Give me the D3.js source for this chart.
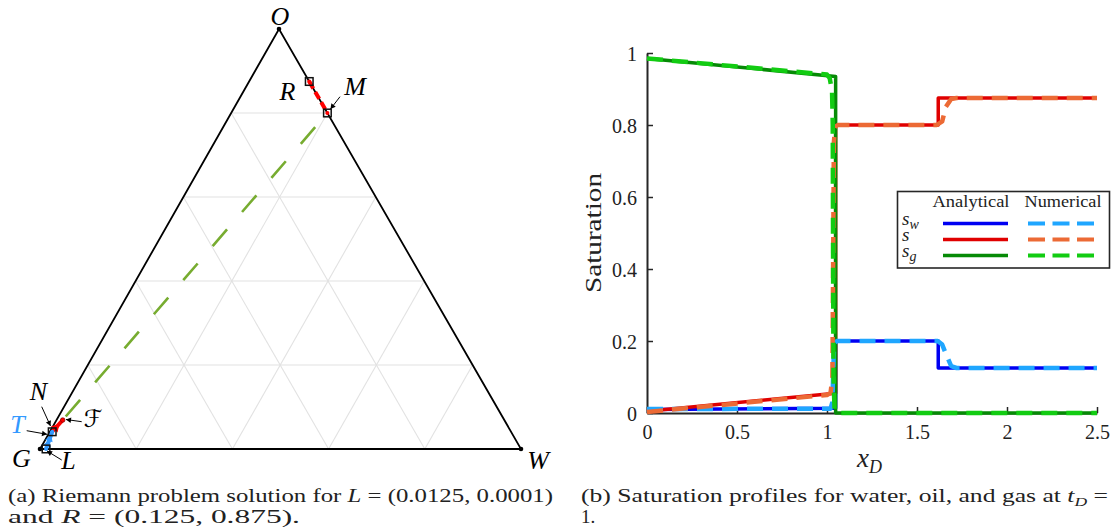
<!DOCTYPE html>
<html><head><meta charset="utf-8">
<script src="https://cdn.jsdelivr.net/npm/d3@7"></script>
<style>
html,body{margin:0;padding:0;background:#fff;}
svg{display:block;font-family:"Liberation Serif","DejaVu Serif",serif;}
</style></head>
<body>
<svg id="chart" width="1118" height="532"></svg>
<script>
// ---------------- DATA ----------------
// Ternary states (sw, so); sg = 1 - sw - so
const stateNames = ["L", "N", "F", "M", "R"];
const stateSw = [0.0125, 0.005, 0.013, 0.2, 0.125];
const stateSo = [0.0001, 0.041, 0.069, 0.8, 0.875];
const gridDivisions = [0.2, 0.4, 0.6, 0.8];
const vertexLabels = ["O", "G", "W"];

// Saturation profiles (x_D)
const swAnaX = [0, 1.048, 1.048, 1.618, 1.618, 2.5];
const swAnaY = [0.010, 0.013, 0.2, 0.2, 0.125, 0.125];
const sAnaX  = [0, 1.048, 1.048, 1.618, 1.618, 2.5];
const sAnaY  = [0.005, 0.055, 0.8, 0.8, 0.875, 0.875];
const sgAnaX = [0, 1.048, 1.048, 2.5];
const sgAnaY = [0.985, 0.935, 0, 0];

const swNumX = [0, 1.02, 1.03, 1.034, 1.038, 1.045, 1.055, 1.615, 1.64, 1.66, 1.69, 1.72, 2.5];
const swNumY = [0.011, 0.012, 0.03, 0.1, 0.17, 0.195, 0.2, 0.2, 0.19, 0.165, 0.13, 0.125, 0.125];
const sNumX  = [0, 1.0, 1.02, 1.03, 1.034, 1.038, 1.045, 1.06, 1.61, 1.64, 1.66, 1.69, 1.72, 2.5];
const sNumY  = [0.003, 0.05, 0.056, 0.1, 0.4, 0.75, 0.795, 0.8, 0.8, 0.81, 0.85, 0.872, 0.875, 0.875];
const sgNumX = [0, 1.0, 1.015, 1.028, 1.032, 1.034, 1.036, 1.042, 1.06, 2.5];
const sgNumY = [0.985, 0.94, 0.93, 0.895, 0.8, 0.4, 0.1, 0.01, 0, 0];

const xTicks = [0, 0.5, 1, 1.5, 2, 2.5];
const yTicks = [0, 0.2, 0.4, 0.6, 0.8, 1];
const legendNames = ["w", "", "g"];

// ---------------- STYLE ----------------
const C = {
  blue: "#0000f2", lblue: "#1fa6ff", red: "#e00000", orange: "#ec6a35",
  green: "#068a06", lgreen: "#12cc12", axis: "#262626", tblue: "#3399ff",
  tgreen: "#77ac30", grid: "#e2e2e2"
};

const svg = d3.select("#chart");

// ================= LEFT: TERNARY =================
const G = {x: 40, y: 449}, W = {x: 521, y: 449}, O = {x: 279, y: 29};
const swScale = d3.scaleLinear().domain([0, 1]).range([0, W.x - G.x]);
const soX = d3.scaleLinear().domain([0, 1]).range([G.x, O.x]);
const soY = d3.scaleLinear().domain([0, 1]).range([G.y, O.y]);
const proj = (sw, so) => [soX(so) + swScale(sw), soY(so)];

const tern = svg.append("g");
gridDivisions.forEach(v => {
  const segs = [
    [proj(0, v), proj(1 - v, v)],
    [proj(v, 0), proj(v, 1 - v)],
    [proj(1 - v, 0), proj(0, 1 - v)]
  ];
  segs.forEach(s => tern.append("line")
    .attr("x1", s[0][0]).attr("y1", s[0][1]).attr("x2", s[1][0]).attr("y2", s[1][1])
    .attr("stroke", C.grid).attr("stroke-width", 1.1));
});
const tri = [proj(0, 0), proj(1, 0), proj(0, 1)];
tern.append("path").attr("d", d3.line()(tri) + "Z")
  .attr("fill", "none").attr("stroke", "#000").attr("stroke-width", 1.8);
tri.forEach(p => tern.append("circle").attr("cx", p[0]).attr("cy", p[1]).attr("r", 2.3).attr("fill", "#000"));

const st = {};
stateNames.forEach((n, i) => st[n] = proj(stateSw[i], stateSo[i]));

tern.append("line")
  .attr("x1", st.F[0] + 3).attr("y1", st.F[1] - 3.5).attr("x2", st.M[0]).attr("y2", st.M[1])
  .attr("stroke", C.tgreen).attr("stroke-width", 2.6).attr("stroke-dasharray", "22,23");
tern.append("line")
  .attr("x1", st.R[0]).attr("y1", st.R[1]).attr("x2", st.M[0]).attr("y2", st.M[1])
  .attr("stroke", "#ff0000").attr("stroke-width", 4).attr("stroke-dasharray", "8,4");

function arrowHead(g, p0, p1, t, size, color) {
  const dx = p1[0] - p0[0], dy = p1[1] - p0[1], L = Math.hypot(dx, dy);
  const ux = dx / L, uy = dy / L, nx = -uy, ny = ux;
  const tip = [p0[0] + dx * t, p0[1] + dy * t];
  const base = [tip[0] - ux * size, tip[1] - uy * size];
  g.append("path").attr("d", d3.line()([tip,
    [base[0] + nx * size * 0.55, base[1] + ny * size * 0.55],
    [base[0] - nx * size * 0.55, base[1] - ny * size * 0.55]]) + "Z")
    .attr("fill", color);
}
tern.append("line").attr("x1", st.L[0]).attr("y1", st.L[1]).attr("x2", st.N[0]).attr("y2", st.N[1])
  .attr("stroke", C.tblue).attr("stroke-width", 4);
arrowHead(tern, st.L, st.N, 0.55, 7, C.tblue);
arrowHead(tern, st.L, st.N, 0.85, 7, C.tblue);
tern.append("line").attr("x1", st.N[0]).attr("y1", st.N[1]).attr("x2", st.F[0]).attr("y2", st.F[1])
  .attr("stroke", "#ff0000").attr("stroke-width", 4);
arrowHead(tern, st.N, st.F, 0.7, 8, "#ff0000");
tern.append("circle").attr("cx", st.F[0]).attr("cy", st.F[1]).attr("r", 2.3).attr("fill", "#ff0000").attr("stroke", "#600").attr("stroke-width", 0.6);

const markerDot = {L: C.tblue, N: C.tblue, M: "#ff0000", R: "#ff0000"};
["L", "N", "M", "R"].forEach(n => {
  const p = st[n];
  tern.append("rect").attr("x", p[0] - 3.8).attr("y", p[1] - 3.8).attr("width", 7.6).attr("height", 7.6)
    .attr("fill", "none").attr("stroke", "#111").attr("stroke-width", 1.5);
  tern.append("circle").attr("cx", p[0]).attr("cy", p[1]).attr("r", 2).attr("fill", markerDot[n]);
});

function annot(x1, y1, x2, y2) {
  tern.append("line").attr("x1", x1).attr("y1", y1).attr("x2", x2).attr("y2", y2)
    .attr("stroke", "#000").attr("stroke-width", 1);
  arrowHead(tern, [x1, y1], [x2, y2], 1, 5, "#000");
}
annot(41.7, 406.7, 50.5, 426);
annot(26.7, 430.7, 47, 434.3);
annot(61.7, 460, 47, 451);
annot(81.7, 421.7, 66, 419.5);
annot(340, 96.7, 330.5, 109);

const lab = (txt, x, y, anchor, color, size) => tern.append("text").text(txt)
  .attr("x", x).attr("y", y).attr("text-anchor", anchor || "middle")
  .attr("font-style", "italic").attr("font-size", size || 26).attr("fill", color || "#000");
lab(vertexLabels[0], 280, 25);
lab(vertexLabels[1], 21.5, 467);
lab(vertexLabels[2], 538, 469);
lab("R", 287.5, 100);
lab("M", 355, 95);
lab("N", 38.5, 400);
lab("T", 17.5, 433, "middle", C.tblue);
lab("L", 68.5, 469);
tern.append("text").text("\u2131").attr("x", 93).attr("y", 427).attr("text-anchor", "middle")
  .attr("font-size", 24).attr("font-family", "DejaVu Serif, DejaVu Sans, serif").attr("font-style", "italic");

// ================= RIGHT: PROFILES =================
const x = d3.scaleLinear().domain([0, 2.5]).range([647, 1097]);
const y = d3.scaleLinear().domain([0, 1]).range([413, 53]);
const prof = svg.append("g");

const fmt = d => d === 0 ? "0" : String(d);
const xAxis = prof.append("g").attr("transform", "translate(0,413)")
  .call(d3.axisBottom(x).tickValues(xTicks).tickFormat(fmt).tickSizeInner(-6).tickSizeOuter(0).tickPadding(12));
const yAxis = prof.append("g").attr("transform", "translate(647,0)")
  .call(d3.axisLeft(y).tickValues(yTicks).tickFormat(fmt).tickSizeInner(-6).tickSizeOuter(0).tickPadding(10));
[xAxis, yAxis].forEach(a => {
  a.select(".domain").attr("stroke", C.axis).attr("stroke-width", 2);
  a.selectAll(".tick line").attr("stroke", C.axis).attr("stroke-width", 1.5);
  a.selectAll(".tick text").attr("font-size", 20).attr("fill", "#222")
    .attr("font-family", "Liberation Serif, serif");
});
yAxis.selectAll(".tick text").attr("dy", "0.35em");

const line = d3.line().x(d => x(d[0])).y(d => y(d[1]));
const zip = (a, b) => a.map((v, i) => [v, b[i]]);
const series = [
  {X: swAnaX, Y: swAnaY, c: C.blue, dash: null, w: 3.5},
  {X: sAnaX, Y: sAnaY, c: C.red, dash: null, w: 3.5},
  {X: sgAnaX, Y: sgAnaY, c: C.green, dash: null, w: 3.5},
  {X: swNumX, Y: swNumY, c: C.lblue, dash: "16,9", w: 4.5},
  {X: sNumX, Y: sNumY, c: C.orange, dash: "16,9", w: 4.5},
  {X: sgNumX, Y: sgNumY, c: C.lgreen, dash: "16,9", w: 4.5}
];
series.forEach(s => prof.append("path").attr("d", line(zip(s.X, s.Y)))
  .attr("fill", "none").attr("stroke", s.c).attr("stroke-width", s.w)
  .attr("stroke-dasharray", s.dash).attr("stroke-linejoin", "round"));

prof.append("text").text("Saturation").attr("transform", "translate(601,233) rotate(-90)")
  .attr("text-anchor", "middle").attr("font-size", 24).attr("textLength", 120).attr("lengthAdjust", "spacingAndGlyphs").attr("fill", "#222");
const xl = prof.append("text").attr("x", 857).attr("y", 467).attr("font-size", 27).attr("fill", "#222");
xl.append("tspan").text("x").attr("font-style", "italic");
xl.append("tspan").text("D").attr("font-style", "italic").attr("font-size", 18).attr("dy", 6);

// legend
const lg = prof.append("g");
lg.append("rect").attr("x", 897.5).attr("y", 191.5).attr("width", 212).attr("height", 76.5)
  .attr("fill", "#fff").attr("stroke", "#262626").attr("stroke-width", 1.6);
lg.append("text").text("Analytical").attr("x", 932.5).attr("y", 207).attr("font-size", 17)
  .attr("textLength", 77).attr("lengthAdjust", "spacingAndGlyphs").attr("fill", "#222");
lg.append("text").text("Numerical").attr("x", 1024.5).attr("y", 207).attr("font-size", 17)
  .attr("textLength", 77).attr("lengthAdjust", "spacingAndGlyphs").attr("fill", "#222");
const rowY = [223.5, 239.5, 255.5];
const anaCol = [C.blue, C.red, C.green], numCol = [C.lblue, C.orange, C.lgreen];
rowY.forEach((ry, i) => {
  lg.append("line").attr("x1", 943).attr("x2", 1008).attr("y1", ry).attr("y2", ry)
    .attr("stroke", anaCol[i]).attr("stroke-width", 3.5);
  lg.append("line").attr("x1", 1028).attr("x2", 1094).attr("y1", ry).attr("y2", ry)
    .attr("stroke", numCol[i]).attr("stroke-width", 4).attr("stroke-dasharray", "17,7.5");
  const t = lg.append("text").attr("x", 902).attr("y", ry + 1).attr("font-size", 15)
    .attr("font-style", "italic").attr("fill", "#222");
  t.append("tspan").text("s").attr("font-size", 19);
  if (legendNames[i]) t.append("tspan").text(legendNames[i]).attr("font-size", 14).attr("dy", 4);
});

// ================= CAPTIONS =================
const cap = svg.append("g").attr("font-size", 19).attr("fill", "#222");
const c1 = cap.append("text").attr("x", 8).attr("y", 502).attr("textLength", 545).attr("lengthAdjust", "spacingAndGlyphs");
c1.append("tspan").text("(a) Riemann problem solution for ");
c1.append("tspan").text("L").attr("font-style", "italic");
c1.append("tspan").text(" = (0.0125, 0.0001)");
const c2 = cap.append("text").attr("x", 8).attr("y", 523).attr("textLength", 292).attr("lengthAdjust", "spacingAndGlyphs");
c2.append("tspan").text("and ");
c2.append("tspan").text("R").attr("font-style", "italic");
c2.append("tspan").text(" = (0.125, 0.875).");
const c3 = cap.append("text").attr("x", 581).attr("y", 502).attr("textLength", 527).attr("lengthAdjust", "spacingAndGlyphs");
c3.append("tspan").text("(b) Saturation profiles for water, oil, and gas at ");
c3.append("tspan").text("t").attr("font-style", "italic");
c3.append("tspan").text("D").attr("font-style", "italic").attr("font-size", 13).attr("dy", 4);
c3.append("tspan").text(" =").attr("dy", -4);
cap.append("text").attr("x", 581).attr("y", 523).text("1.");
</script>
</body></html>
